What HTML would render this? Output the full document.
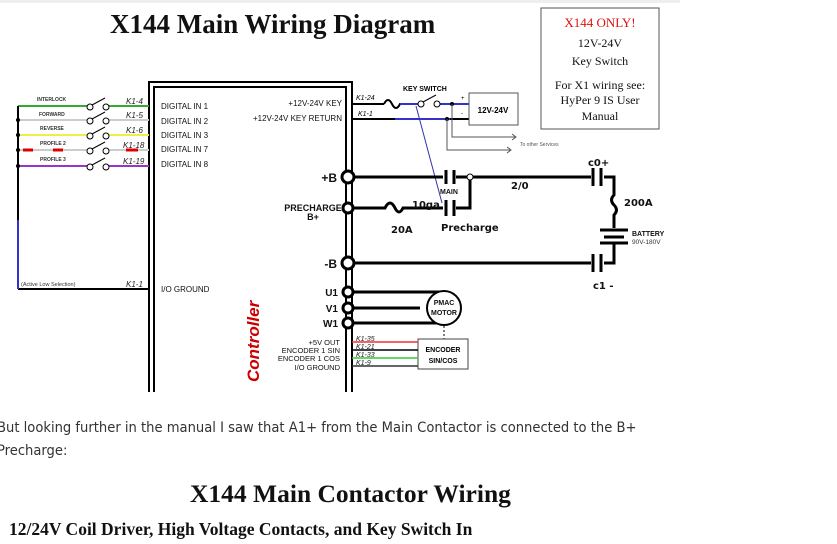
<!DOCTYPE html>
<html><head><style>
body{margin:0;background:#fff;width:837px;height:544px;overflow:hidden;position:relative;font-family:"Liberation Sans",sans-serif}
.t{position:absolute;white-space:nowrap}
</style></head><body>
<div style="position:absolute;left:0;top:0;width:680px;height:3px;background:#eee"></div>
<svg width="837" height="400" style="position:absolute;left:0;top:0" font-family="Liberation Sans, sans-serif">
<text x="110" y="33" font-family="Liberation Serif, serif" font-weight="bold" font-size="27" fill="#111">X144 Main Wiring Diagram</text>
<rect x="541" y="8" width="118" height="121" fill="#fff" stroke="#555" stroke-width="1"/>
<g font-family="Liberation Serif, serif" font-size="12" text-anchor="middle" fill="#111">
<text x="600" y="27" fill="#e01010" font-size="13">X144 ONLY!</text>
<text x="600" y="47">12V-24V</text>
<text x="600" y="65">Key Switch</text>
<text x="600" y="89">For X1 wiring see:</text>
<text x="600" y="104">HyPer 9 IS User</text>
<text x="600" y="120">Manual</text>
</g>
<g fill="none" stroke="#000" stroke-width="2">
<path d="M149 392 V82 H352 V392"/>
<path d="M154 392 V87 H346 V392"/>
</g>
<g stroke-width="2" fill="none">
<line x1="18" y1="106" x2="88" y2="106" stroke="#3a3"/><line x1="108" y1="106" x2="149" y2="106" stroke="#3a3"/>
<line x1="18" y1="120" x2="88" y2="120" stroke="#ccc"/><line x1="108" y1="120" x2="149" y2="120" stroke="#ccc"/>
<line x1="18" y1="135" x2="88" y2="135" stroke="#ee4"/><line x1="108" y1="135" x2="149" y2="135" stroke="#ee4"/>
<line x1="18" y1="150" x2="88" y2="150" stroke="#ccc"/><line x1="108" y1="150" x2="149" y2="150" stroke="#ccc"/>
<line x1="18" y1="166" x2="88" y2="166" stroke="#93c"/><line x1="108" y1="166" x2="149" y2="166" stroke="#93c"/>
<line x1="18" y1="106" x2="18" y2="289" stroke="#000"/><line x1="18" y1="289" x2="149" y2="289" stroke="#000"/>
<line x1="18" y1="220" x2="18" y2="289" stroke="#33c"/>
</g>
<g stroke="#d00" stroke-width="3"><line x1="23" y1="150" x2="33" y2="150"/><line x1="53" y1="150" x2="63" y2="150"/><line x1="126" y1="150" x2="138" y2="150"/></g>
<g fill="#000"><circle cx="18" cy="120" r="2"/><circle cx="18" cy="135" r="2"/><circle cx="18" cy="150" r="2"/><circle cx="18" cy="166" r="2"/></g>
<g fill="#fff" stroke="#000" stroke-width="1">
<circle cx="90" cy="107" r="3"/><circle cx="106" cy="107" r="3"/><line x1="92" y1="105" x2="105" y2="98"/>
<circle cx="90" cy="121" r="3"/><circle cx="106" cy="121" r="3"/><line x1="92" y1="119" x2="105" y2="112"/>
<circle cx="90" cy="136" r="3"/><circle cx="106" cy="136" r="3"/><line x1="92" y1="134" x2="105" y2="127"/>
<circle cx="90" cy="151" r="3"/><circle cx="106" cy="151" r="3"/><line x1="92" y1="149" x2="105" y2="142"/>
<circle cx="90" cy="167" r="3"/><circle cx="106" cy="167" r="3"/><line x1="92" y1="165" x2="105" y2="158"/>
</g>
<g font-size="5" font-weight="bold" fill="#333">
<text x="37" y="101">INTERLOCK</text><text x="39" y="116">FORWARD</text><text x="40" y="130">REVERSE</text><text x="40" y="145">PROFILE 2</text><text x="40" y="161">PROFILE 3</text>
</g>
<g font-size="8" font-style="italic" fill="#222">
<text x="126" y="104">K1-4</text><text x="126" y="118">K1-5</text><text x="126" y="133">K1-6</text><text x="123" y="148">K1-18</text><text x="123" y="164">K1-19</text><text x="126" y="287">K1-1</text>
</g>
<text x="21" y="286" font-size="5.5" fill="#333">(Active Low Selection)</text>
<g font-size="8" fill="#111">
<text x="161" y="109">DIGITAL IN 1</text><text x="161" y="124">DIGITAL IN 2</text><text x="161" y="138">DIGITAL IN 3</text><text x="161" y="152">DIGITAL IN 7</text><text x="161" y="167">DIGITAL IN 8</text><text x="161" y="292">I/O GROUND</text>
<text x="342" y="106" text-anchor="end">+12V-24V KEY</text><text x="342" y="121" text-anchor="end">+12V-24V KEY RETURN</text>
</g>
<g fill="none" stroke-width="2">
<path d="M352 104 H384" stroke="#000"/><path d="M384 104 q4 -8 8 0 q4 8 8 0 H418" stroke="#000"/>
<path d="M400 104 H418" stroke="#33c"/><path d="M437 104 H469" stroke="#33c"/>
<path d="M352 119 H469" stroke="#000"/><path d="M395 119 H450" stroke="#33c"/>
</g>
<rect x="469" y="93" width="49" height="32" fill="#fff" stroke="#555"/>
<text x="493" y="113" font-size="8" font-weight="bold" text-anchor="middle">12V-24V</text>
<text x="461" y="100" font-size="6">+</text><text x="461" y="115" font-size="6">-</text>
<g fill="#fff" stroke="#000"><circle cx="421" cy="104" r="3"/><circle cx="437" cy="104" r="3"/><line x1="423" y1="102" x2="436" y2="95"/></g>
<circle cx="452" cy="104" r="2"/><circle cx="447" cy="119" r="2"/>
<g fill="none" stroke="#555" stroke-width="1"><path d="M452 104 V137 H515 M447 119 V150 H510"/><path d="M512 134 l4 3 -4 3 M507 147 l4 3 -4 3"/></g>
<text x="520" y="146" font-size="5" fill="#555">To other Services</text>
<text x="403" y="91" font-size="7" font-weight="bold">KEY SWITCH</text>
<g font-size="7" font-style="italic"><text x="356" y="100">K1-24</text><text x="358" y="116">K1-1</text></g>
<line x1="416" y1="106" x2="442" y2="203" stroke="#33a" stroke-width="1"/>
<g fill="none" stroke="#000" stroke-width="3">
<path d="M352 177 H443 M456 177 H591"/><path d="M352 263 H591"/>
<path d="M352 208 H385 q5 -10 10 0 q4 8 8 0 H443"/>
<path d="M470 177 V208 H456"/>
<path d="M604 177 H614 V195 q-5 5 0 10 q5 5 0 10 V228"/>
<path d="M614 243 V263 H604"/>
<path d="M352 292 H440 M352 308 H420 M352 323 H440"/>
</g>
<g stroke="#000" stroke-width="3"><line x1="446" y1="170" x2="446" y2="184"/><line x1="454" y1="170" x2="454" y2="184"/>
<line x1="446" y1="200" x2="446" y2="216"/><line x1="454" y1="200" x2="454" y2="216"/>
<line x1="593" y1="168" x2="593" y2="186"/><line x1="601" y1="168" x2="601" y2="186"/>
<line x1="593" y1="254" x2="593" y2="272"/><line x1="601" y1="254" x2="601" y2="272"/>
<line x1="600" y1="230" x2="628" y2="230"/><line x1="604" y1="237" x2="624" y2="237"/><line x1="600" y1="243" x2="628" y2="243"/></g>
<circle cx="470" cy="177" r="3" fill="#fff" stroke="#000"/>
<g fill="#fff" stroke="#000" stroke-width="3">
<circle cx="348" cy="177" r="6"/><circle cx="348" cy="208" r="5"/><circle cx="348" cy="263" r="6"/>
<circle cx="348" cy="292" r="5"/><circle cx="348" cy="308" r="5"/><circle cx="348" cy="323" r="5"/>
<circle cx="444" cy="308" r="17" stroke-width="2"/></g>
<g font-weight="bold" fill="#111">
<text x="337" y="182" font-size="12" text-anchor="end">+B</text>
<text x="337" y="268" font-size="12" text-anchor="end">-B</text>
<text x="313" y="211" font-size="9" text-anchor="middle">PRECHARGE</text><text x="313" y="220" font-size="9" text-anchor="middle">B+</text>
<text x="338" y="296" font-size="10" text-anchor="end">U1</text><text x="338" y="312" font-size="10" text-anchor="end">V1</text><text x="338" y="327" font-size="10" text-anchor="end">W1</text>
<text x="444" y="305" font-size="7" text-anchor="middle">PMAC</text><text x="444" y="315" font-size="7" text-anchor="middle">MOTOR</text>
<text x="440" y="194" font-size="7">MAIN</text>
<text x="412" y="208" font-size="10" font-family="DejaVu Sans, sans-serif">10ga</text>
<text x="391" y="233" font-size="10" font-family="DejaVu Sans, sans-serif">20A</text>
<text x="441" y="231" font-size="10" font-family="DejaVu Sans, sans-serif">Precharge</text>
<text x="511" y="189" font-size="10" font-family="DejaVu Sans, sans-serif">2/0</text>
<text x="588" y="166" font-size="10" font-family="DejaVu Sans, sans-serif">c0+</text>
<text x="624" y="206" font-size="10" font-family="DejaVu Sans, sans-serif">200A</text>
<text x="593" y="289" font-size="10" font-family="DejaVu Sans, sans-serif">c1 -</text>
<text x="632" y="236" font-size="7">BATTERY</text>
</g>
<text x="632" y="244" font-size="6.5" fill="#333">90V-180V</text>
<line x1="444" y1="326" x2="444" y2="339" stroke="#000" stroke-dasharray="2 2"/>
<rect x="418" y="339" width="50" height="30" fill="#fff" stroke="#444"/>
<text x="443" y="352" font-size="7" font-weight="bold" text-anchor="middle">ENCODER</text><text x="443" y="363" font-size="7" font-weight="bold" text-anchor="middle">SIN/COS</text>
<g stroke-width="1.5"><line x1="352" y1="342" x2="418" y2="342" stroke="#e33"/><line x1="352" y1="350" x2="418" y2="350" stroke="#000"/><line x1="352" y1="358" x2="418" y2="358" stroke="#3c3"/><line x1="352" y1="366" x2="418" y2="366" stroke="#333"/></g>
<g font-size="7" font-style="italic" fill="#222"><text x="356" y="341">K1-35</text><text x="356" y="349">K1-21</text><text x="356" y="357">K1-33</text><text x="356" y="365">K1-9</text></g>
<g font-size="7.5" fill="#111" text-anchor="end"><text x="340" y="345">+5V OUT</text><text x="340" y="353">ENCODER 1 SIN</text><text x="340" y="361">ENCODER 1 COS</text><text x="340" y="370">I/O GROUND</text></g>
<text transform="translate(259,382) rotate(-90)" font-size="17" font-weight="bold" font-style="italic" fill="#c00">Controller</text>
</svg>
<div class="t" style="left:-3px;top:416px;font-size:14.6px;color:#333;font-family:'DejaVu Sans Condensed','Liberation Sans',sans-serif;font-stretch:condensed;line-height:23px">But looking further in the manual I saw that A1+ from the Main Contactor is connected to the B+<br>Precharge:</div>
<div class="t" style="left:190px;top:479px;font-size:25.5px;font-weight:bold;font-family:'Liberation Serif',serif;color:#111">X144 Main Contactor Wiring</div>
<div class="t" style="left:9px;top:519px;font-size:17.5px;font-weight:bold;font-family:'Liberation Serif',serif;color:#111">12/24V Coil Driver, High Voltage Contacts, and Key Switch In</div>
</body></html>
